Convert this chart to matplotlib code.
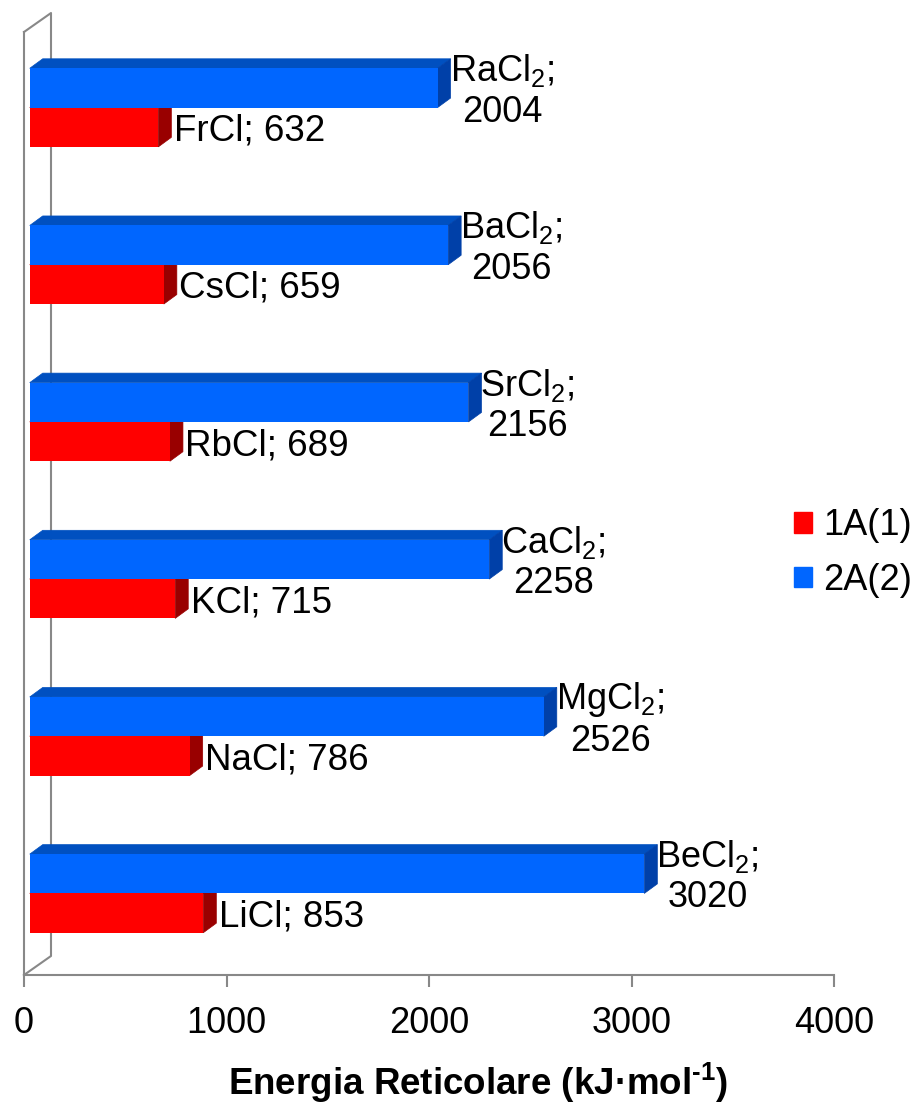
import matplotlib.pyplot as plt
from matplotlib.patches import Polygon, Patch
from matplotlib.transforms import Affine2D

plt.rcParams['font.family'] = 'Liberation Sans'
plt.rcParams['mathtext.fontset'] = 'custom'
plt.rcParams['mathtext.rm'] = 'Liberation Sans'
plt.rcParams['mathtext.it'] = 'Liberation Sans:italic'
plt.rcParams['mathtext.bf'] = 'Liberation Sans:bold'

# lattice energies, group 1A and 2A chlorides (bottom to top)
salts_1a = ['LiCl', 'NaCl', 'KCl', 'RbCl', 'CsCl', 'FrCl']
salts_2a = ['BeCl$_2$', 'MgCl$_2$', 'CaCl$_2$', 'SrCl$_2$', 'BaCl$_2$', 'RaCl$_2$']
energy_1a = [853, 786, 715, 689, 659, 632]
energy_2a = [3020, 2526, 2258, 2156, 2056, 2004]
series = ['1A(1)', '2A(2)']
xticks = [0, 1000, 2000, 3000, 4000]

red, red_top, red_side = '#FF0000', '#C00000', '#990000'
blue, blue_top, blue_side = '#0066FF', '#0050C0', '#0040A8'
grey = '#888888'

fig = plt.figure(figsize=(9.13, 11.03), dpi=100)
ax = fig.add_axes([24/913, 128/1103, 810/913, 943/1103])
ax.set_xlim(0, 4000)
ax.set_ylim(-0.5, 5.5)

# bars sit a bit in front of the back wall
front = ax.transData + Affine2D().scale(1.005, 1).translate(5.6, 3)
h = 0.25
kx = ax.bbox.width / 4000 * 1.005
ky = ax.bbox.height / 6
dx, dy = 13 / kx, 9.5 / ky


def bar3d(y, v, face, top, side):
    ax.barh(y, v, height=h, align='edge', color=face, transform=front, zorder=3)
    ax.add_patch(Polygon([(0, y + h), (v, y + h), (v + dx, y + h + dy), (dx, y + h + dy)],
                         fc=top, ec=top, lw=0.5, transform=front, zorder=2))
    ax.add_patch(Polygon([(v, y), (v + dx, y + dy), (v + dx, y + h + dy), (v, y + h)],
                         fc=side, ec=side, lw=0.5, transform=front, zorder=2))


for i in range(6):
    bar3d(i - h, energy_1a[i], red, red_top, red_side)
    bar3d(i, energy_2a[i], blue, blue_top, blue_side)
    ax.text(energy_1a[i], i - h / 2, f'{salts_1a[i]}; {energy_1a[i]}',
            transform=front + Affine2D().translate(15.5, -13.5),
            ha='left', va='baseline', fontsize=26.5, zorder=4)
    ax.text(energy_2a[i], i + h / 2, f'{salts_2a[i]};\n{energy_2a[i]}',
            transform=front + Affine2D().translate(12, -3),
            ha='left', va='center', multialignment='center', fontsize=26, zorder=4)

# back wall outline
wx, wy = 27 / ax.bbox.width, 19 / ax.bbox.height
ax.plot([0, wx, wx, 0], [0, wy, 1 + wy, 1], color=grey, lw=1.5,
        transform=ax.transAxes, clip_on=False, zorder=1)

for s in ['top', 'right']:
    ax.spines[s].set_visible(False)
for s in ['left', 'bottom']:
    ax.spines[s].set_color(grey)
    ax.spines[s].set_linewidth(1.5)
ax.set_yticks([])
ax.set_xticks(xticks)
ax.tick_params(axis='x', direction='out', length=8.6, width=1.5, color=grey,
               labelsize=26, pad=14)

fig.text(478/913, 1 - 1083/1103, 'Energia Reticolare (kJ·mol$^{\\mathbf{\u20101}}$)',
         ha='center', va='center', fontsize=26.5, fontweight='bold')

handles = [Patch(color=red), Patch(color=blue)]
fig.legend(handles, series, loc='center left', bbox_to_anchor=(794/913, 1 - 553/1103),
           frameon=False, fontsize=26, handlelength=0.5, handleheight=0.5,
           handletextpad=0.3, labelspacing=0.55, borderpad=0, borderaxespad=0)

fig.savefig('out.png', dpi=100)
